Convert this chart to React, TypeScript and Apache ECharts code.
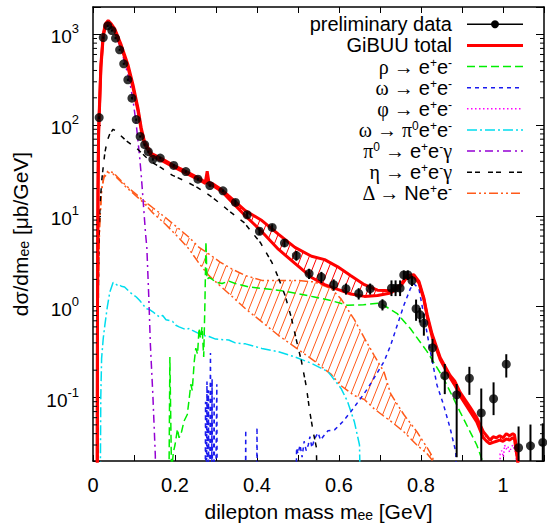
import React, { useEffect, useRef } from "react";
import * as echarts from "echarts";

const SANS = "'Liberation Sans', Arial, Helvetica, sans-serif";
const SERIF = "'Liberation Serif', 'Times New Roman', serif";

// axes
const X_MIN = 0;
const X_MAX = 1.1;
const X_STEP = 0.1;
const Y_MIN = 0.02;
const Y_MAX = 2000;
const Y_MINOR_TICKS = [
  0.03, 0.04, 0.05, 0.06, 0.07, 0.08, 0.09,
  0.2, 0.3, 0.4, 0.5, 0.6, 0.7, 0.8, 0.9,
  2, 3, 4, 5, 6, 7, 8, 9,
  20, 30, 40, 50, 60, 70, 80, 90,
  200, 300, 400, 500, 600, 700, 800, 900,
];

// preliminary data
const DATA_M = [0.015, 0.025, 0.036, 0.046, 0.055, 0.065, 0.075, 0.085, 0.095, 0.1055, 0.115, 0.126, 0.135, 0.146, 0.164, 0.197, 0.2265, 0.256, 0.285, 0.317, 0.3474, 0.376, 0.406, 0.437, 0.467, 0.496, 0.527, 0.557, 0.587, 0.617, 0.648, 0.676, 0.706, 0.728, 0.738, 0.749, 0.758, 0.768, 0.778, 0.788, 0.797, 0.807, 0.828, 0.858, 0.887, 0.918, 0.947, 0.977, 1.008, 1.038, 1.067, 1.097];
const DATA_Y = [121, 920, 1240, 1100, 908, 676, 474, 316, 198, 115, 75, 61, 51, 42, 43.4, 36, 30.8, 25.4, 21.6, 18.9, 14.1, 10.3, 6.78, 7.48, 5.04, 3.66, 2.32, 2.12, 1.75, 1.58, 1.4, 1.58, 1.06, 1.6, 1.6, 1.6, 2.24, 2.24, 1.94, 0.95, 0.82, 0.66, 0.353, 0.174, 0.107, 0.163, 0.0677, 0.097, 0.233, 0.028, 0.0294, 0.032];
const DATA_ELO = [4, 25, 35, 30, 25, 18, 13, 9, 6, 3.5, 2.2, 1.8, 1.5, 1.3, 1.3, 1.1, 0.9, 0.8, 0.7, 0.6, 1.0, 0.8, 0.6, 0.6, 0.5, 0.45, 0.3, 0.3, 0.25, 0.22, 0.2, 0.22, 0.15, 0.29, 0.29, 0.29, 0.27, 0.27, 0.25, 0.25, 0.15, 0.18, 0.11, 0.065, 0.085, 0.056, 0.06, 0.033, 0.067, 0.02, 0.021, 0.02];
const DATA_EHI = [4, 25, 35, 30, 25, 18, 13, 9, 6, 3.5, 2.2, 1.8, 1.5, 1.3, 1.3, 1.1, 0.9, 0.8, 0.7, 0.6, 1.0, 0.8, 0.6, 0.6, 0.5, 0.45, 0.3, 0.3, 0.25, 0.22, 0.2, 0.22, 0.15, 0.35, 0.35, 0.35, 0.27, 0.27, 0.25, 0.25, 0.15, 0.18, 0.09, 0.06, 0.034, 0.055, 0.058, 0.05, 0.067, 0.02, 0.021, 0.02];

// GiBUU total band
const TOTAL_M = [0.0100, 0.0108, 0.0115, 0.0122, 0.0137, 0.0193, 0.025, 0.030, 0.037, 0.045, 0.053, 0.069, 0.0854, 0.0975, 0.1095, 0.1177, 0.1257, 0.142, 0.166, 0.194, 0.2265, 0.2587, 0.274, 0.2785, 0.283, 0.291, 0.315, 0.331, 0.372, 0.412, 0.452, 0.4925, 0.533, 0.565, 0.597, 0.629, 0.662, 0.694, 0.726, 0.75, 0.766, 0.7825, 0.795, 0.807, 0.815, 0.827, 0.847, 0.871, 0.883, 0.895, 0.92, 0.936, 0.952, 0.96, 0.968, 0.976, 0.984, 0.992, 1.000, 1.008, 1.016, 1.024, 1.028, 1.032, 1.036, 1.039];
const TOTAL_HI = [0.001, 0.5, 5, 20, 90, 470, 1000, 1300, 1420, 1300, 1150, 760, 460, 280, 155, 93, 66, 49, 43, 36.5, 31, 26, 23.5, 31, 23, 22.8, 19.3, 16.6, 11.4, 8.9, 6.3, 4.5, 3.6, 3.3, 2.75, 2.2, 1.75, 1.52, 1.5, 1.73, 2.2, 2.25, 1.9, 1.25, 0.82, 0.5, 0.275, 0.175, 0.15, 0.115, 0.078, 0.06, 0.042, 0.038, 0.034, 0.037, 0.036, 0.038, 0.036, 0.04, 0.038, 0.04, 0.039, 0.03, 0.022, 0.001];
const TOTAL_LO = [0.001, 0.4, 4, 17, 80, 430, 950, 1230, 1350, 1230, 1090, 720, 430, 260, 145, 87, 62, 46, 41, 35, 29.5, 25, 22.8, 26, 22, 21.8, 18.5, 15.5, 10.0, 6.7, 4.3, 3.0, 2.1, 1.75, 1.55, 1.38, 1.3, 1.33, 1.42, 1.68, 2.12, 2.15, 1.82, 1.2, 0.78, 0.47, 0.26, 0.165, 0.135, 0.105, 0.07, 0.054, 0.036, 0.033, 0.031, 0.032, 0.033, 0.034, 0.033, 0.035, 0.034, 0.036, 0.035, 0.026, 0.02, 0.001];

// Delta -> N e+e- band
const DELTA_M = [0.0115, 0.013, 0.016, 0.021, 0.0266, 0.037, 0.049, 0.065, 0.0815, 0.0975, 0.1217, 0.146, 0.178, 0.21, 0.2345, 0.2587, 0.283, 0.31, 0.339, 0.372, 0.412, 0.452, 0.50, 0.541, 0.581, 0.605, 0.6375, 0.662, 0.686, 0.71, 0.726, 0.758, 0.79, 0.815, 0.829, 0.835];
const DELTA_HI = [0.001, 2, 8, 19.7, 27.5, 31.3, 30, 25.4, 21.4, 18.5, 15, 12.3, 9.5, 7.2, 5.8, 4.5, 3.8, 3.1, 2.6, 2.2, 1.95, 1.95, 1.95, 1.87, 1.58, 1.22, 0.72, 0.45, 0.29, 0.19, 0.11, 0.065, 0.042, 0.028, 0.022, 0.001];
const DELTA_LO = [0.001, 1.8, 7.5, 19, 26.5, 30, 29, 24.5, 20.6, 17.8, 14.2, 10.8, 8.0, 5.7, 4.3, 3.0, 2.2, 1.7, 1.3, 0.95, 0.68, 0.485, 0.34, 0.25, 0.18, 0.135, 0.105, 0.095, 0.075, 0.062, 0.055, 0.042, 0.03, 0.024, 0.02, 0.001];

// single channels [m, dsigma/dm]
const RHO: number[][] = [[0.1835, 0.001], [0.1875, 0.28], [0.1915, 0.015], [0.196, 0.025], [0.2, 0.03], [0.206, 0.045], [0.21, 0.036], [0.216, 0.042], [0.222, 0.055], [0.23, 0.065], [0.236, 0.11], [0.2386, 0.14], [0.242, 0.12], [0.247, 0.25], [0.2507, 0.35], [0.255, 0.3], [0.2587, 0.58], [0.262, 0.45], [0.266, 0.6], [0.27, 0.28], [0.273, 1.1], [0.2755, 5.2], [0.278, 2.0], [0.283, 2.1], [0.291, 2.0], [0.299, 1.87], [0.315, 1.8], [0.331, 1.92], [0.347, 1.8], [0.38, 1.65], [0.42, 1.58], [0.46, 1.5], [0.50, 1.39], [0.54, 1.28], [0.58, 1.17], [0.62, 1.04], [0.66, 1.05], [0.70, 1.1], [0.742, 0.84], [0.774, 0.575], [0.815, 0.32], [0.855, 0.163], [0.895, 0.07], [0.936, 0.03], [0.96, 0.015]];
const OMEGA: number[][] = [[0.273, 0.001], [0.2745, 0.09], [0.276, 0.001], [0.278, 0.15], [0.2795, 0.001], [0.2815, 0.12], [0.283, 0.001], [0.2865, 0.31], [0.2885, 0.001], [0.2905, 0.16], [0.292, 0.001], [0.2955, 0.1], [0.297, 0.001], [0.302, 0.14], [0.3035, 0.001], [0.371, 0.001], [0.3725, 0.044], [0.374, 0.001], [0.3985, 0.001], [0.4, 0.047], [0.4015, 0.001], [0.494, 0.001], [0.4965, 0.028], [0.5, 0.024], [0.505, 0.03], [0.51, 0.022], [0.515, 0.033], [0.52, 0.026], [0.525, 0.03], [0.529, 0.037], [0.534, 0.028], [0.54, 0.035], [0.549, 0.041], [0.555, 0.034], [0.561, 0.037], [0.573, 0.043], [0.589, 0.044], [0.609, 0.054], [0.629, 0.07], [0.65, 0.094], [0.67, 0.126], [0.69, 0.177], [0.71, 0.25], [0.726, 0.377], [0.742, 0.625], [0.758, 1.03], [0.774, 1.58], [0.7825, 1.79], [0.795, 1.58], [0.807, 0.8], [0.823, 0.32], [0.839, 0.137], [0.855, 0.083], [0.871, 0.046], [0.885, 0.025], [0.891, 0.001]];
const PHI: number[][] = [[0.99, 0.001], [0.993, 0.024], [0.997, 0.026], [1.001, 0.022], [1.004, 0.03], [1.008, 0.027], [1.012, 0.029], [1.016, 0.025], [1.02, 0.028], [1.024, 0.03], [1.028, 0.026], [1.032, 0.025], [1.034, 0.001]];
const OMEGA_DALITZ: number[][] = [[0.0165, 0.001], [0.019, 0.1], [0.021, 0.27], [0.025, 0.45], [0.029, 0.63], [0.035, 1.0], [0.041, 1.45], [0.049, 1.85], [0.053, 1.8], [0.06, 1.72], [0.065, 1.75], [0.069, 1.68], [0.077, 1.65], [0.0895, 1.45], [0.1057, 1.28], [0.114, 1.17], [0.13, 0.95], [0.138, 0.93], [0.146, 0.88], [0.162, 0.77], [0.17, 0.8], [0.178, 0.72], [0.194, 0.69], [0.202, 0.625], [0.21, 0.6], [0.2265, 0.56], [0.2345, 0.575], [0.2425, 0.55], [0.2667, 0.485], [0.283, 0.47], [0.299, 0.44], [0.331, 0.43], [0.347, 0.4], [0.372, 0.39], [0.412, 0.347], [0.452, 0.32], [0.4925, 0.28], [0.533, 0.238], [0.573, 0.193], [0.605, 0.126], [0.621, 0.09], [0.6375, 0.054], [0.65, 0.03], [0.656, 0.001]];
const PI0_DALITZ: number[][] = [[0.0098, 0.001], [0.0108, 0.5], [0.0118, 10], [0.0135, 75], [0.019, 420], [0.025, 920], [0.03, 1200], [0.036, 1320], [0.045, 1180], [0.053, 1030], [0.069, 680], [0.08, 440], [0.0895, 300], [0.0975, 190], [0.1057, 100], [0.1137, 45], [0.1177, 28], [0.1217, 16], [0.128, 6.5], [0.1313, 4.5], [0.136, 1.3], [0.14, 0.38], [0.146, 0.107], [0.152, 0.023], [0.154, 0.001]];
const ETA_DALITZ: number[][] = [[0.0112, 0.001], [0.0122, 0.5], [0.014, 4], [0.017, 13], [0.0215, 25], [0.025, 35], [0.029, 50], [0.035, 68], [0.041, 80], [0.049, 90], [0.055, 87], [0.0815, 67], [0.1057, 56], [0.14, 40], [0.166, 34], [0.194, 28], [0.2265, 24], [0.255, 20.5], [0.283, 17], [0.315, 13.2], [0.331, 11.4], [0.368, 8.5], [0.408, 5.1], [0.436, 3.1], [0.452, 2.1], [0.468, 1.35], [0.484, 0.75], [0.4965, 0.42], [0.5085, 0.25], [0.5205, 0.13], [0.5287, 0.07], [0.537, 0.042], [0.545, 0.028], [0.549, 0.001]];

const LEGEND_LABELS = [
  "{a|preliminary data}",
  "{a|GiBUU total}",
  "{g|ρ → }{a|e}{s|+}{a|e}{s|-}",
  "{g|ω → }{a|e}{s|+}{a|e}{s|-}",
  "{g|φ → }{a|e}{s|+}{a|e}{s|-}",
  "{g|ω → π}{s|0}{a|e}{s|+}{a|e}{s|-}",
  "{g|π}{s|0}{g| → }{a|e}{s|+}{a|e}{s|-}{g|γ}",
  "{g|η → }{a|e}{s|+}{a|e}{s|-}{g|γ}",
  "{g|Δ → }{a|Ne}{s|+}{a|e}{s|-}",
];

const RED = "#ff0000";
const GREEN = "#00ee00";
const BLUE = "#1a1aee";
const MAGENTA = "#ff00ff";
const CYAN = "#00ddee";
const PURPLE = "#9400d3";
const BLACK = "#000000";
const ORANGE = "#ff5a1a";

const DASH_RHO = [8, 4];
const DASH_OMEGA = [4, 4];
const DASH_PHI = [1.5, 2.5];
const DASH_OMD = [10, 3, 2, 3];
const DASH_PI0 = [8, 4, 2, 4];
const DASH_ETA = [5, 3, 5, 8];
const DASH_DELTA = [9, 3, 2, 3, 2, 3];

const HATCH_SPACING = 8;
const HATCH_TAN = 0.4;

function pairs(ms: number[], vs: number[]) {
  return ms.map((m, i) => [m, vs[i]]);
}

function line(data: number[][], color: string, width: number, dash: any, z = 3) {
  return {
    type: "line",
    data,
    symbol: "none",
    showSymbol: false,
    silent: true,
    clip: true,
    z,
    lineStyle: { color, width, type: dash },
  };
}

// hatched fill between two curves, computed in pixel space from the axes
function hatchSeries(ms: number[], lo: number[], hi: number[], color: string) {
  return {
    type: "custom",
    silent: true,
    z: 2,
    encode: { x: 0, y: 1 },
    data: [[ms[0], 1]],
    renderItem: (params: any, api: any) => {
      const cs = params.coordSys;
      const top = cs.y;
      const bottom = cs.y + cs.height;
      const xs = ms.map((m) => api.coord([m, 1])[0]);
      const yh = hi.map((v, i) => api.coord([ms[i], v])[1]);
      const yl = lo.map((v, i) => api.coord([ms[i], v])[1]);
      const n = xs.length;
      const interp = (arr: number[], x: number) => {
        let a = 0;
        let b = n - 1;
        while (b - a > 1) {
          const mid = (a + b) >> 1;
          if (xs[mid] <= x) a = mid;
          else b = mid;
        }
        const dx = xs[b] - xs[a];
        const t = dx > 0 ? (x - xs[a]) / dx : 0;
        return arr[a] + (arr[b] - arr[a]) * t;
      };
      const x0 = xs[0];
      const x1 = xs[n - 1];
      const children: any[] = [];
      const seg = (s: number[], e: number[]) => ({
        type: "line",
        shape: { x1: s[0], y1: s[1], x2: e[0], y2: e[1] },
        style: { stroke: color, lineWidth: 1 },
      });
      const h = bottom - top;
      for (let c = x0 - h * HATCH_TAN; c <= x1; c += HATCH_SPACING) {
        let start: number[] | null = null;
        let prev: number[] | null = null;
        for (let y = bottom; y >= top; y -= 0.5) {
          const x = c + (bottom - y) * HATCH_TAN;
          let inside = false;
          if (x >= x0 && x <= x1) {
            const u = interp(yh, x);
            const l = interp(yl, x);
            inside = y >= Math.min(u, l) && y <= Math.max(u, l);
          }
          if (inside) {
            if (!start) start = [x, y];
            prev = [x, y];
          } else if (start && prev) {
            children.push(seg(start, prev));
            start = null;
          }
        }
        if (start && prev) children.push(seg(start, prev));
      }
      return { type: "group", children };
    },
  };
}

export default function App() {
  const ref = useRef<HTMLDivElement>(null);
  useEffect(() => {
    if (!ref.current) return;
    const chart = echarts.init(ref.current, null, { renderer: "svg" });

    const tickRich = {
      b: { fontSize: 19, fontFamily: SANS, color: "#000", lineHeight: 24, verticalAlign: "bottom" },
      s: { fontSize: 13, fontFamily: SANS, color: "#000", lineHeight: 12, verticalAlign: "top" },
    };
    const titleRich = {
      a: { fontSize: 21, fontFamily: SANS, color: "#000", lineHeight: 25, verticalAlign: "bottom" },
      sub: { fontSize: 14, fontFamily: SANS, color: "#000", lineHeight: 8, verticalAlign: "bottom" },
    };
    const legRich = {
      a: { fontSize: 20, fontFamily: SANS, fill: "#000", color: "#000", lineHeight: 20, verticalAlign: "bottom" },
      g: { fontSize: 20, fontFamily: SERIF, fill: "#000", color: "#000", lineHeight: 20, verticalAlign: "bottom" },
      s: { fontSize: 12, fontFamily: SANS, fill: "#000", color: "#000", lineHeight: 12, verticalAlign: "top" },
    };

    const legendStyles = [
      { color: BLACK, width: 1.5, dash: null, dot: true },
      { color: RED, width: 3, dash: null, dot: false },
      { color: GREEN, width: 1.5, dash: DASH_RHO, dot: false },
      { color: BLUE, width: 1.5, dash: DASH_OMEGA, dot: false },
      { color: MAGENTA, width: 1.5, dash: DASH_PHI, dot: false },
      { color: CYAN, width: 1.5, dash: DASH_OMD, dot: false },
      { color: PURPLE, width: 1.5, dash: DASH_PI0, dot: false },
      { color: BLACK, width: 1.5, dash: DASH_ETA, dot: false },
      { color: ORANGE, width: 1.5, dash: DASH_DELTA, dot: false },
    ];
    const legendElems: any[] = [];
    LEGEND_LABELS.forEach((label, i) => {
      const y = 24.3 + 21.13 * i;
      const st = legendStyles[i];
      legendElems.push({
        type: "text",
        x: 452,
        y,
        silent: true,
        style: {
          text: label,
          rich: legRich,
          textAlign: "right",
          textVerticalAlign: "middle",
          align: "right",
          verticalAlign: "middle",
          fill: "#000",
        },
      });
      legendElems.push({
        type: "line",
        silent: true,
        shape: { x1: 467, y1: y, x2: 523, y2: y },
        style: { stroke: st.color, lineWidth: st.width, lineDash: st.dash || undefined },
      });
      if (st.dot) {
        legendElems.push({
          type: "circle",
          silent: true,
          shape: { cx: 495, cy: y, r: 4 },
          style: { fill: "#000" },
        });
      }
    });

    const xCommon = {
      type: "value",
      min: X_MIN,
      max: X_MAX,
      interval: X_STEP,
      axisLine: { show: true, onZero: false, lineStyle: { color: "#000", width: 1.5 } },
      axisTick: { show: true, inside: true, length: 6, lineStyle: { color: "#000", width: 1 } },
      splitLine: { show: false },
    };
    const yCommon = {
      type: "log",
      logBase: 10,
      min: Y_MIN,
      max: Y_MAX,
      axisLine: { show: true, onZero: false, lineStyle: { color: "#000", width: 1.5 } },
      axisTick: { show: true, inside: true, length: 8, lineStyle: { color: "#000", width: 1 } },
      splitLine: { show: false },
    };

    const option: any = {
      animation: false,
      backgroundColor: "#fff",
      grid: { left: 93, right: -1, top: 7, bottom: 64, containLabel: false },
      xAxis: [
        {
          ...xCommon,
          position: "bottom",
          axisLabel: {
            fontSize: 20,
            fontFamily: SANS,
            color: "#000",
            margin: 14,
            formatter: (v: number) => {
              const k = Math.round(v * 10);
              if (k % 2 !== 0 || k > 10) return "";
              if (k === 0) return "0";
              if (k === 10) return "1";
              return (k / 10).toFixed(1);
            },
          },
          name: "{a|dilepton mass m}{sub|ee}{a| [GeV]}",
          nameLocation: "middle",
          nameGap: 36,
          nameTextStyle: { rich: titleRich, fontSize: 21, fontFamily: SANS, color: "#000" },
        },
        { ...xCommon, position: "top", axisLabel: { show: false } },
      ],
      yAxis: [
        {
          ...yCommon,
          position: "left",
          axisLabel: {
            margin: 14,
            color: "#000",
            rich: tickRich,
            formatter: (v: number) => {
              const e = Math.log10(v);
              const r = Math.round(e);
              if (Math.abs(e - r) > 1e-6) return "";
              return "{b|10}{s|" + r + "}";
            },
          },
          name: "{a|dσ/dm}{sub|ee}{a| [μb/GeV]}",
          nameLocation: "middle",
          nameGap: 62,
          nameTextStyle: { rich: titleRich, fontSize: 21, fontFamily: SANS, color: "#000" },
        },
        { ...yCommon, position: "right", axisLabel: { show: false } },
      ],
      series: [
        hatchSeries(DELTA_M, DELTA_LO, DELTA_HI, ORANGE),
        line(pairs(DELTA_M, DELTA_LO), ORANGE, 1.5, DASH_DELTA),
        line(pairs(DELTA_M, DELTA_HI), ORANGE, 1.5, DASH_DELTA),
        line(OMEGA_DALITZ, CYAN, 1.5, DASH_OMD),
        line(RHO, GREEN, 1.5, DASH_RHO),
        line(OMEGA, BLUE, 1.5, DASH_OMEGA),
        line(PHI, MAGENTA, 1.5, DASH_PHI),
        line(PI0_DALITZ, PURPLE, 1.5, DASH_PI0),
        line(ETA_DALITZ, BLACK, 1.5, DASH_ETA),
        hatchSeries(TOTAL_M, TOTAL_LO, TOTAL_HI, RED),
        line(pairs(TOTAL_M, TOTAL_LO), RED, 3, "solid", 4),
        line(pairs(TOTAL_M, TOTAL_HI), RED, 3, "solid", 4),
        {
          type: "custom",
          silent: true,
          z: 5,
          encode: { x: 0, y: 1 },
          data: DATA_M.map((m, i) => [m, DATA_Y[i], DATA_Y[i] - DATA_ELO[i], DATA_Y[i] + DATA_EHI[i]]),
          renderItem: (params: any, api: any) => {
            const m = api.value(0);
            const lo = api.value(2);
            const hi = api.value(3);
            const cs = params.coordSys;
            const pt = api.coord([m, hi]);
            const yb = lo > 0 ? api.coord([m, lo])[1] : cs.y + cs.height;
            return {
              type: "line",
              shape: { x1: pt[0], y1: Math.max(pt[1], cs.y), x2: pt[0], y2: Math.min(yb, cs.y + cs.height) },
              style: { stroke: "#000", lineWidth: 2 },
            };
          },
        },
        {
          type: "scatter",
          silent: true,
          z: 6,
          symbol: "circle",
          symbolSize: 9,
          itemStyle: { color: "#000" },
          data: pairs(DATA_M, DATA_Y),
        },
        {
          type: "custom",
          silent: true,
          z: 6,
          encode: { x: 0, y: 1 },
          data: Y_MINOR_TICKS.map((v) => [X_MIN, v]),
          renderItem: (params: any, api: any) => {
            const cs = params.coordSys;
            const y = api.coord([X_MIN, api.value(1)])[1];
            return {
              type: "group",
              children: [
                { type: "line", shape: { x1: cs.x, y1: y, x2: cs.x + 4, y2: y }, style: { stroke: "#000", lineWidth: 1 } },
                { type: "line", shape: { x1: cs.x + cs.width - 4, y1: y, x2: cs.x + cs.width, y2: y }, style: { stroke: "#000", lineWidth: 1 } },
              ],
            };
          },
        },
      ],
      graphic: { elements: legendElems },
    };

    chart.setOption(option);
    return () => chart.dispose();
  }, []);

  return (
    <div
      ref={ref}
      style={{ position: "absolute", left: 0, top: 0, width: 547, height: 527, background: "#fff" }}
    />
  );
}
